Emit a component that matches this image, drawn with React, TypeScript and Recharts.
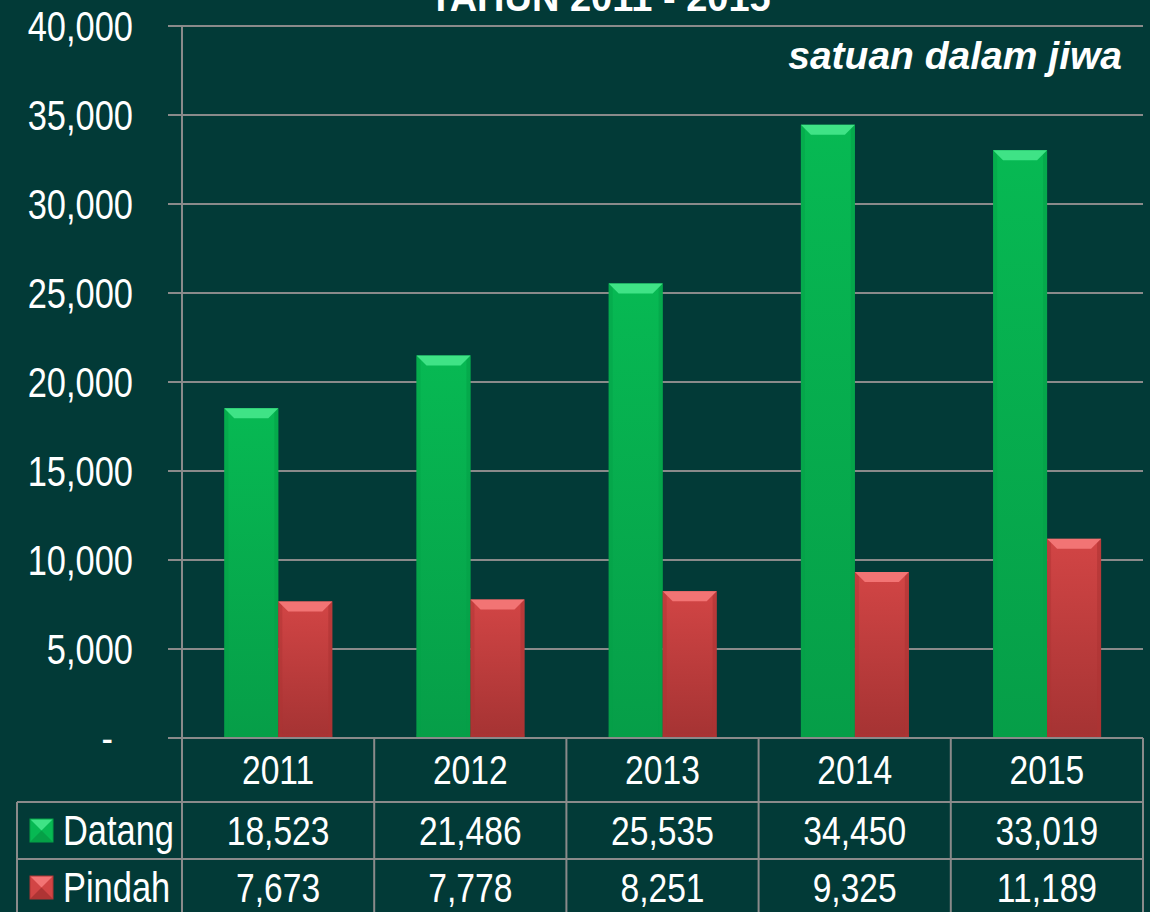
import { Bar, BarChart, CartesianGrid, XAxis, YAxis } from 'recharts';

const years = ['2011', '2012', '2013', '2014', '2015'];
const datang = [18523, 21486, 25535, 34450, 33019];
const pindah = [7673, 7778, 8251, 9325, 11189];
const yTicks = [0, 5000, 10000, 15000, 20000, 25000, 30000, 35000, 40000];
const seriesNames = ['Datang', 'Pindah'];
const title = 'TAHUN 2011 - 2015';
const unitNote = 'satuan dalam jiwa';

const W = 1150;
const H = 912;
const LEFT = 182;
const RIGHT = 7;
const TOP = 26;
const TABLE_H = 174;
const BASE = H - TABLE_H;
const COL_W = (W - LEFT - RIGHT) / years.length;
const ROW1 = 802;
const ROW2 = 859;
const PAD_BOTTOM = 4;

const BG = '#023a37';
const GRID = '#8a8a8a';
const FONT = '"Liberation Sans", Arial, sans-serif';
// no Arial Narrow here, so squeeze Liberation Sans horizontally
const SQUEEZE = 0.82;

const data = years.map((year, i) => ({ year, datang: datang[i], pindah: pindah[i] }));

const fmt = (v: number) => v.toLocaleString('en-US');

interface Palette {
  main: string;
  light: string;
  dark: string;
  bottom: string;
}

const GREEN: Palette = { main: '#07b953', light: '#3fe386', dark: '#05a047', bottom: '#069e48' };
const RED: Palette = { main: '#d24545', light: '#f27474', dark: '#ae3434', bottom: '#a53333' };

interface NTextProps {
  x: number;
  y: number;
  anchor?: 'start' | 'middle' | 'end';
  size?: number;
  children: React.ReactNode;
}

function NText({ x, y, anchor = 'start', size = 42, children }: NTextProps) {
  return (
    <text
      transform={`translate(${x},${y}) scale(${SQUEEZE},1)`}
      textAnchor={anchor}
      dominantBaseline="central"
      fill="#ffffff"
      fontFamily={FONT}
      fontSize={size}
    >
      {children}
    </text>
  );
}

// bevelled bar, like the office 3d preset
function bevelBar(p: Palette, id: string) {
  return (props: any) => {
    const { x, y, width, height } = props;
    if (!height || height <= 0) return <g />;
    const b = Math.min(10, height / 2);
    const e = 4;
    return (
      <g>
        <defs>
          <linearGradient id={id} x1="0" y1="0" x2="0" y2="1">
            <stop offset="0%" stopColor={p.main} />
            <stop offset="100%" stopColor={p.bottom} />
          </linearGradient>
        </defs>
        <rect x={x} y={y} width={width} height={height} fill={`url(#${id})`} />
        <rect x={x} y={y} width={e} height={height} fill={p.dark} opacity={0.45} />
        <rect x={x + width - e} y={y} width={e} height={height} fill={p.dark} opacity={0.6} />
        <rect x={x} y={y + height - e} width={width} height={e} fill={p.dark} opacity={0.4} />
        <polygon
          points={`${x},${y} ${x + width},${y} ${x + width - b},${y + b} ${x + b},${y + b}`}
          fill={p.light}
        />
      </g>
    );
  };
}

function YTick(props: any) {
  const { x, y, payload } = props;
  const v = payload.value as number;
  return (
    <NText x={v === 0 ? x - 20 : x} y={y} anchor="end">
      {v === 0 ? '-' : fmt(v)}
    </NText>
  );
}

function TableTick(props: any) {
  const { x, y, index } = props;
  const half = COL_W / 2;
  return (
    <g>
      {index === 0 && <line x1={x - half} x2={x - half} y1={y} y2={H} stroke={GRID} strokeWidth={2} />}
      <line x1={x + half} x2={x + half} y1={y} y2={H} stroke={GRID} strokeWidth={2} />
      <line x1={x - half} x2={x + half} y1={ROW1} y2={ROW1} stroke={GRID} strokeWidth={2} />
      <line x1={x - half} x2={x + half} y1={ROW2} y2={ROW2} stroke={GRID} strokeWidth={2} />
      <NText x={x} y={(BASE + ROW1) / 2} anchor="middle" size={41}>{years[index]}</NText>
      <NText x={x} y={(ROW1 + ROW2) / 2} anchor="middle" size={41}>{fmt(datang[index])}</NText>
      <NText x={x} y={(ROW2 + H + PAD_BOTTOM) / 2} anchor="middle" size={41}>{fmt(pindah[index])}</NText>
    </g>
  );
}

function LegendKey({ y, p }: { y: number; p: Palette }) {
  const x0 = 30;
  const s = 23;
  const y0 = y - s / 2;
  const cx = x0 + s / 2;
  const cy = y;
  return (
    <g>
      <rect x={x0} y={y0} width={s} height={s} fill={p.main} />
      <polygon points={`${x0},${y0} ${x0 + s},${y0} ${cx},${cy}`} fill={p.light} />
      <polygon points={`${x0},${y0 + s} ${x0 + s},${y0 + s} ${cx},${cy}`} fill={p.dark} />
      <rect x={x0} y={y0} width={s} height={s} fill="none" stroke={p.dark} strokeWidth={1} />
    </g>
  );
}

function Overlay() {
  const r1 = (ROW1 + ROW2) / 2;
  const r2 = (ROW2 + H + PAD_BOTTOM) / 2;
  return (
    <svg
      width={W}
      height={H}
      style={{ position: 'absolute', left: 0, top: 0, pointerEvents: 'none' }}
    >
      <text
        x={600}
        y={11}
        textAnchor="middle"
        fill="#ffffff"
        fontFamily={FONT}
        fontWeight="bold"
        fontSize={38}
      >
        {title}
      </text>
      <text
        x={1122}
        y={69}
        textAnchor="end"
        fill="#ffffff"
        fontFamily={FONT}
        fontWeight="bold"
        fontStyle="italic"
        fontSize={39}
      >
        {unitNote}
      </text>
      <line x1={LEFT} x2={LEFT} y1={BASE} y2={H} stroke={GRID} strokeWidth={2} />
      <line x1={17} x2={17} y1={ROW1} y2={H} stroke={GRID} strokeWidth={2} />
      <line x1={17} x2={LEFT} y1={ROW1} y2={ROW1} stroke={GRID} strokeWidth={2} />
      <line x1={17} x2={LEFT} y1={ROW2} y2={ROW2} stroke={GRID} strokeWidth={2} />
      <LegendKey y={r1} p={GREEN} />
      <LegendKey y={r2} p={RED} />
      <NText x={63} y={r1}>{seriesNames[0]}</NText>
      <NText x={63} y={r2}>{seriesNames[1]}</NText>
    </svg>
  );
}

export default function App() {
  return (
    <div
      style={{
        position: 'fixed',
        left: 0,
        top: 0,
        width: W,
        height: H,
        background: BG,
        overflow: 'hidden',
      }}
    >
      <BarChart
        width={W}
        height={H}
        data={data}
        margin={{ top: TOP, right: RIGHT, bottom: 0, left: 0 }}
        barCategoryGap="22%"
        barGap={0}
      >
        <CartesianGrid horizontal vertical={false} stroke={GRID} strokeWidth={2} />
        <YAxis
          width={LEFT}
          domain={[0, 40000]}
          ticks={yTicks}
          interval={0}
          axisLine={{ stroke: GRID, strokeWidth: 2 }}
          tickLine={{ stroke: GRID, strokeWidth: 2 }}
          tickSize={14}
          tickMargin={35}
          tick={<YTick />}
        />
        <XAxis
          dataKey="year"
          height={TABLE_H}
          axisLine={{ stroke: GRID, strokeWidth: 2 }}
          tickLine={false}
          tickSize={0}
          tickMargin={0}
          interval={0}
          tick={<TableTick />}
        />
        <Bar dataKey="datang" name={seriesNames[0]} shape={bevelBar(GREEN, 'g-grad')} isAnimationActive={false} />
        <Bar dataKey="pindah" name={seriesNames[1]} shape={bevelBar(RED, 'r-grad')} isAnimationActive={false} />
      </BarChart>
      <Overlay />
    </div>
  );
}
